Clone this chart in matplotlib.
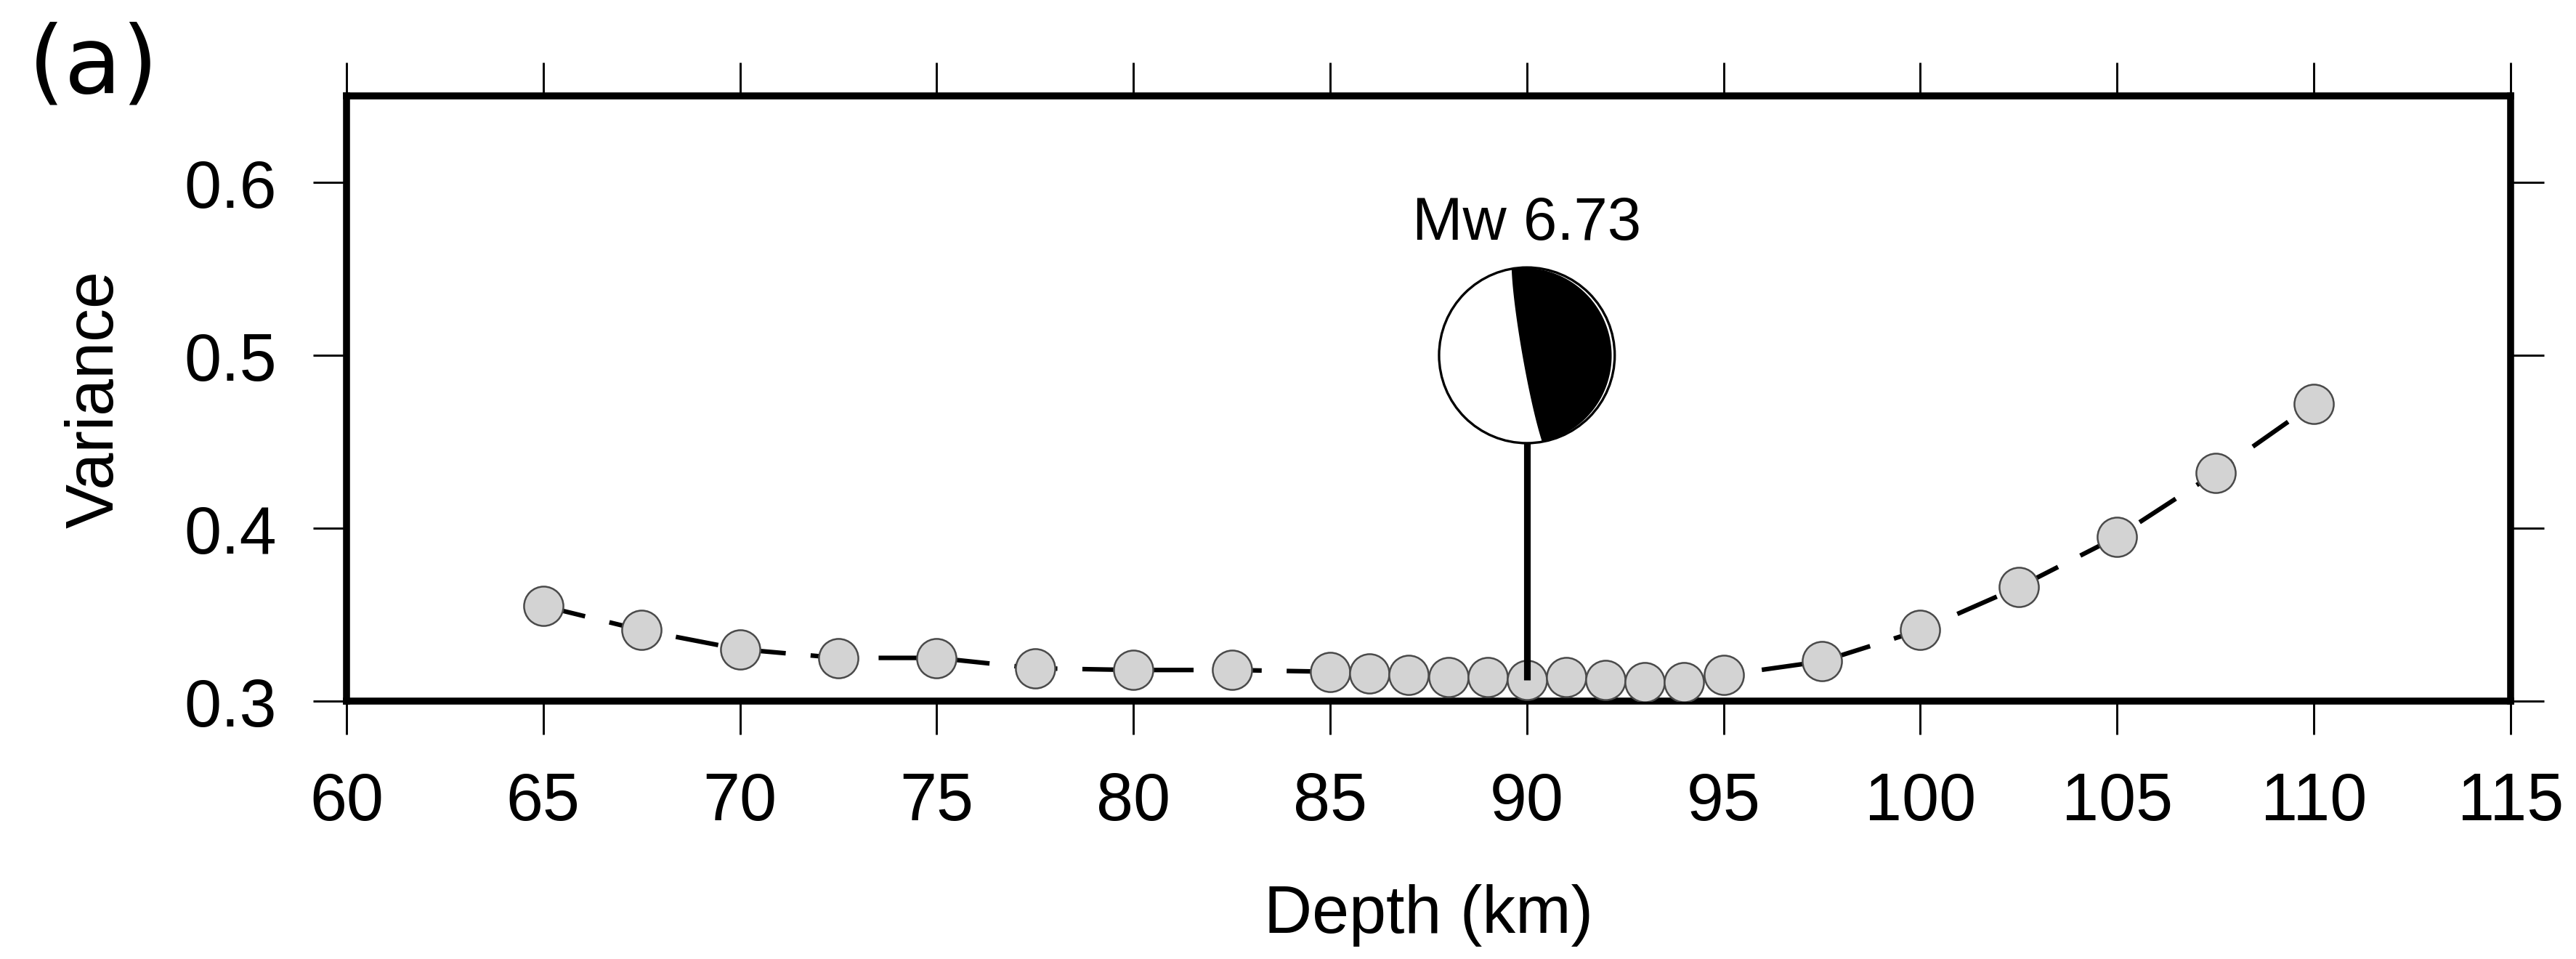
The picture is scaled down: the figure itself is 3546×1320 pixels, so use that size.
import numpy as np
import matplotlib
matplotlib.use("Agg")
import matplotlib.pyplot as plt
from matplotlib.patches import Circle, Polygon
from matplotlib.transforms import ScaledTranslation

plt.rcParams['font.family'] = ['Liberation Sans', 'DejaVu Sans']

# variance of the waveform fit for each trial centroid depth
depth = [65, 67.5, 70, 72.5, 75, 77.5, 80, 82.5, 85, 86, 87, 88, 89, 90,
         91, 92, 93, 94, 95, 97.5, 100, 102.5, 105, 107.5, 110]
variance = [0.355, 0.341, 0.330, 0.325, 0.325, 0.319, 0.318, 0.318, 0.317,
            0.316, 0.315, 0.314, 0.314, 0.312, 0.314, 0.312, 0.311, 0.311,
            0.315, 0.323, 0.341, 0.366, 0.395, 0.432, 0.472]

# best solution: depth, magnitude and where the beachball sits
best_depth = 90
best_mw = 6.73
ball_var = 0.5
# nodal planes (strike, dip) of the focal mechanism
plane1 = (170, 86)
plane2 = (350, 4)

xticks = np.arange(60, 116, 5)
yticks = [0.3, 0.4, 0.5, 0.6]


def nodal_curve(strike, dip, n=300):
    # lower-hemisphere equal-area trace of a plane
    s = np.radians(strike)
    d = np.radians(dip)
    t = np.linspace(0, np.pi, n)
    sv = np.array([np.cos(s), np.sin(s), 0.0])
    dv = np.array([np.cos(s + np.pi / 2) * np.cos(d),
                   np.sin(s + np.pi / 2) * np.cos(d), np.sin(d)])
    v = np.outer(np.cos(t), sv) + np.outer(np.sin(t), dv)
    plunge = np.arcsin(np.clip(v[:, 2], -1, 1))
    az = np.arctan2(v[:, 1], v[:, 0])
    r = np.sqrt(2) * np.sin((np.pi / 2 - plunge) / 2)
    return r * np.sin(az), r * np.cos(az)


fig = plt.figure(figsize=(11.82, 4.4033), dpi=300)
ax = fig.add_axes([0.1345, 0.2687, 0.8401, 0.6306])

ax.plot(depth, variance, color='black', lw=1.5, dashes=(9.5, 5.5), zorder=2)
ax.plot(depth, variance, ls='none', marker='o', ms=13, mfc='#d3d3d3',
        mec='#4a4a4a', mew=0.6, zorder=3)

# stem from the best depth up to the beachball
best_var = variance[depth.index(best_depth)]
ax.plot([best_depth, best_depth], [best_var, ball_var], color='black',
        lw=2.2, zorder=4, solid_capstyle='butt')

# beachball drawn in inches around its data position so it stays round
R = 0.403
trans = fig.dpi_scale_trans + ScaledTranslation(best_depth, ball_var, ax.transData)
ax.add_patch(Circle((0, 0), R, transform=trans, fc='white', ec='none', zorder=5))
x1, y1 = nodal_curve(*plane1)
x2, y2 = nodal_curve(*plane2)
pts = np.column_stack([np.concatenate([x1, x2]), np.concatenate([y1, y2])]) * R
ax.add_patch(Polygon(pts, closed=True, transform=trans, fc='black', ec='none', zorder=6))
ax.add_patch(Circle((0, 0), R, transform=trans, fc='none', ec='black', lw=0.8, zorder=7))

ax.annotate(f'Mw {best_mw:.2f}', xy=(best_depth, ball_var), xytext=(0, 38.5),
            textcoords='offset points', ha='center', va='baseline',
            fontsize=20, zorder=8)

ax.set_xlim(60, 115)
ax.set_ylim(0.3, 0.65)
ax.set_xticks(xticks)
ax.set_yticks(yticks)
ax.set_xticklabels([str(v) for v in xticks])
ax.set_yticklabels([f'{v:.1f}' for v in yticks])
ax.tick_params(direction='out', length=11, width=0.7, labelsize=22,
               top=True, right=True, pad=12)
for sp in ax.spines.values():
    sp.set_linewidth(2.3)

ax.set_xlabel('Depth (km)', fontsize=22, labelpad=16.5)
ax.set_ylabel('Variance', fontsize=22, labelpad=19)

fig.text(0.011, 0.93, '(a)', fontsize=31, family='DejaVu Sans',
         ha='left', va='center')

fig.savefig('out.png', dpi=300)
